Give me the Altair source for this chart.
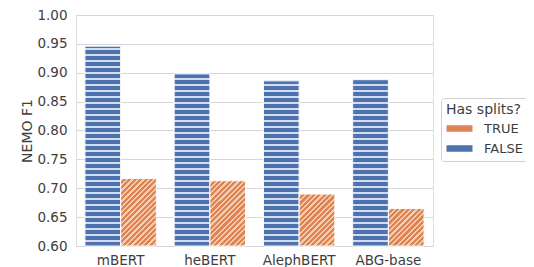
import altair as alt
import pandas as pd

# ---- data ----
models = ["mBERT", "heBERT", "AlephBERT", "ABG-base"]
f1_splits_true = [0.717, 0.713, 0.690, 0.665]
f1_splits_false = [0.946, 0.898, 0.886, 0.888]
split_levels = ["TRUE", "FALSE"]
y_ticks = [0.60, 0.65, 0.70, 0.75, 0.80, 0.85, 0.90, 0.95, 1.00]

rows = []
for m, t, f in zip(models, f1_splits_true, f1_splits_false):
    rows.append({"model": m, "split": "FALSE", "f1": f})
    rows.append({"model": m, "split": "TRUE", "f1": t})
df = pd.DataFrame(rows)

# ---- layout / style ----
PLOT_W, PLOT_H = 357, 231
Y_MIN, Y_MAX = 0.6, 1.0
BAR_W = PLOT_W / 4 * 0.8 / 2
BLUE, ORANGE = "#4c72b0", "#dd8452"
BLUE_HATCH, ORANGE_HATCH = "#d3dcec", "#f6cdb2"
GRID = "#d6d6d6"
TXT = "#3d3d3d"
FONT = "DejaVu Sans"


def clamp(v):
    return max(0.0, min(1.0, v))


def build_stops(intervals, base, line):
    stops = [{"offset": 0.0, "color": base}]
    for a, b in intervals:
        a, b = clamp(a), clamp(b)
        if b <= a:
            continue
        stops += [{"offset": a, "color": base}, {"offset": a, "color": line},
                  {"offset": b, "color": line}, {"offset": b, "color": base}]
    stops.append({"offset": 1.0, "color": base})
    return stops


def horizontal_hatch(value, period=6.0, lw=1.6):
    h = (value - Y_MIN) / (Y_MAX - Y_MIN) * PLOT_H
    iv = []
    k = 0
    while k * period < h + period:
        d0 = k * period + period - lw  # distance from bar bottom
        d1 = k * period + period
        iv.append((1 - d1 / h, 1 - d0 / h))
        k += 1
    iv.sort()
    return {"gradient": "linear", "x1": 0.5, "y1": 0.001, "x2": 0.5, "y2": 1,
            "stops": build_stops(iv, BLUE, BLUE_HATCH)}


def diagonal_hatch(value, period=5.4, lw=2.3):
    h = (value - Y_MIN) / (Y_MAX - Y_MIN) * PLOT_H
    w = BAR_W
    c = w / (w * w + h * h)
    iv = []
    s = 1.0
    while s < w + h:
        iv.append((s * c, (s + lw) * c))
        s += period
    return {"gradient": "linear", "x1": 0.001, "y1": 0.001, "x2": 1, "y2": h / w,
            "stops": build_stops(iv, ORANGE, ORANGE_HATCH)}


conds = []
for m, t, f in zip(models, f1_splits_true, f1_splits_false):
    conds.append({"test": f"datum.model === '{m}' && datum.split === 'FALSE'",
                  "value": horizontal_hatch(f)})
    conds.append({"test": f"datum.model === '{m}' && datum.split === 'TRUE'",
                  "value": diagonal_hatch(t)})

x_enc = alt.X("model:N", sort=models, title=None,
              scale=alt.Scale(paddingInner=0.2, paddingOuter=0.1),
              axis=alt.Axis(labelAngle=0, tickSize=0, domain=False, grid=False,
                            labelPadding=7, labelFontSize=13.5, labelColor=TXT, labelFont=FONT))
xoff_enc = alt.XOffset("split:N", sort=["FALSE", "TRUE"],
                       scale=alt.Scale(domain=["FALSE", "TRUE"], paddingInner=0, paddingOuter=0))
y_enc = alt.Y("f1:Q", title="NEMO F1",
              scale=alt.Scale(domain=[Y_MIN, Y_MAX], zero=False, nice=False),
              axis=alt.Axis(values=y_ticks, format=".2f", tickSize=0, domain=False,
                            labelPadding=9, labelFontSize=13.5, labelColor=TXT, labelFont=FONT,
                            gridColor=GRID, gridWidth=1,
                            titleFontSize=14, titleFontWeight="normal", titleColor=TXT,
                            titleFont=FONT, titleX=-49, titleY=115.5, titleAngle=270,
                            titleAlign="center", titleBaseline="middle"))

base = alt.Chart(df).mark_bar().encode(
    x=x_enc,
    xOffset=xoff_enc,
    y=y_enc,
    y2=alt.datum(Y_MIN),
    color=alt.Color("split:N", scale=alt.Scale(domain=split_levels, range=[ORANGE, BLUE]),
                    legend=alt.Legend(
                        title="Has splits?", orient="none", legendX=365, legendY=83,
                        symbolType="M-2,-0.5H2V0.5H-2Z", symbolSize=169,
                        symbolOffset=7,
                        symbolStrokeWidth=0, symbolOpacity=1,
                        strokeColor="#d0d0d0", fillColor="white", cornerRadius=3,
                        padding=5, titleFontSize=14, titleFontWeight="normal",
                        titleColor=TXT, titleFont=FONT, titlePadding=5,
                        labelFontSize=13, labelColor=TXT, labelFont=FONT,
                        labelOffset=18, rowPadding=6)),
)

hatch = alt.Chart(df).mark_bar(stroke="white", strokeWidth=1).encode(
    x=x_enc,
    xOffset=xoff_enc,
    y=y_enc,
    y2=alt.datum(Y_MIN),
    fill={"condition": conds, "value": "transparent"},
)

chart = alt.layer(base, hatch).properties(
    width=PLOT_W, height=PLOT_H,
    padding={"left": 68, "top": 7, "right": 93, "bottom": 22},
    autosize=alt.AutoSizeParams(type="none"),
).configure_view(stroke=GRID, strokeWidth=1).configure(font=FONT, background="white")

chart.save("out.html", embed_options={"renderer": "svg", "actions": False})
